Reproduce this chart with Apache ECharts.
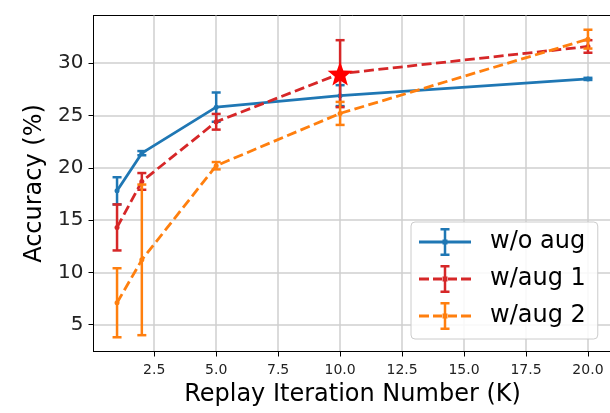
<!DOCTYPE html>
<html>
<head>
<meta charset="utf-8">
<script src="https://cdn.jsdelivr.net/npm/echarts@6/dist/echarts.min.js"></script>
<style>
  html, body { margin: 0; padding: 0; background: #fff; }
  #chart { width: 610px; height: 413px; }
</style>
</head>
<body>
<div id="chart"></div>
<script>
// 数据
const iterations = [1, 2, 5, 10, 20];
const woAug = [17.8, 21.4, 25.8, 26.9, 28.5];
const woAugErr = [1.3, 0.2, 1.4, 1.0, 0.1];
const aug1 = [14.3, 18.7, 24.4, 29.0, 31.6];
const aug1Err = [2.2, 0.8, 0.75, 3.2, 0.6];
const aug2 = [7.1, 11.2, 20.2, 25.2, 32.3];
const aug2Err = [3.3, 7.2, 0.35, 1.1, 0.9];
const starIndex = 3; // w/aug 1 highlighted point
const xTicks = [2.5, 5, 7.5, 10, 12.5, 15, 17.5, 20];
const yTicks = [5, 10, 15, 20, 25, 30];

const BLUE = "#1f77b4", RED = "#d62728", ORANGE = "#ff7f0e";
const FONT = "DejaVu Sans";

// 五角星
function starPath(r, ri) {
  let d = "path://";
  for (let k = 0; k < 10; k++) {
    const rr = k % 2 === 0 ? r : ri;
    const a = -Math.PI / 2 + (k * Math.PI) / 5;
    d += (k === 0 ? "M" : "L") + (rr * Math.cos(a)).toFixed(2) + " " + (rr * Math.sin(a)).toFixed(2);
  }
  return d + "Z";
}

function rect(x0, y0, x1, y1) {
  return "M" + x0 + " " + y0 + "L" + x1 + " " + y0 + "L" + x1 + " " + y1 + "L" + x0 + " " + y1 + "Z";
}
// legend icons (52 x 28 box)
const barPart = rect(24.75, 1, 27.25, 27) + rect(21.5, 0, 30.5, 2.5) + rect(21.5, 25.5, 30.5, 28) + rect(23.5, 11.5, 28.5, 16.5);
const solidIcon = "path://" + rect(0, 12.6, 52, 15.4) + barPart;
const dashedIcon = "path://" + rect(0, 12.6, 10, 15.4) + rect(14, 12.6, 23, 15.4) +
  rect(29, 12.6, 38, 15.4) + rect(42, 12.6, 52, 15.4) + barPart;

function pairs(ys) {
  return iterations.map((x, i) => [x, ys[i]]);
}
function errData(ys, es) {
  return iterations.map((x, i) => [x, ys[i], es[i]]);
}

function errorBars(name, ys, es, color, z) {
  return {
    name: name,
    type: "custom",
    z: z,
    data: errData(ys, es),
    renderItem: function (params, api) {
      const x = api.value(0), y = api.value(1), e = api.value(2);
      const top = api.coord([x, y + e]);
      const bot = api.coord([x, y - e]);
      const cap = 4.5;
      const style = { stroke: color, lineWidth: 2.5, fill: null };
      return {
        type: "group",
        children: [
          { type: "line", shape: { x1: top[0], y1: top[1], x2: bot[0], y2: bot[1] }, style: style },
          { type: "line", shape: { x1: top[0] - cap, y1: top[1], x2: top[0] + cap, y2: top[1] }, style: style },
          { type: "line", shape: { x1: bot[0] - cap, y1: bot[1], x2: bot[0] + cap, y2: bot[1] }, style: style },
        ],
      };
    },
  };
}

function lineSeries(name, ys, color, dashed, z) {
  return {
    name: name,
    type: "line",
    z: z,
    data: pairs(ys),
    symbol: "circle",
    symbolSize: 5,
    showSymbol: true,
    itemStyle: { color: color },
    lineStyle: { color: color, width: 2.8, type: dashed ? [10, 4.5] : "solid" },
  };
}

const chart = echarts.init(document.getElementById("chart"));
chart.setOption({
  animation: false,
  backgroundColor: "#fff",
  grid: {
    left: 93.5,
    top: 15.5,
    width: 518,
    height: 336,
    show: true,
    borderColor: "#000",
    borderWidth: 1,
    outerBoundsMode: "none",
  },
  xAxis: {
    type: "value",
    min: 0.05,
    max: 20.95,
    name: "Replay Iteration Number (K)",
    nameLocation: "middle",
    nameGap: 29,
    nameTextStyle: { fontFamily: FONT, fontSize: 24, color: "#000" },
    axisLine: { show: true, onZero: false, lineStyle: { color: "#000", width: 1 } },
    axisTick: { show: true, length: 5, customValues: xTicks, lineStyle: { color: "#000" } },
    axisLabel: {
      customValues: xTicks,
      margin: 12,
      fontFamily: FONT,
      fontSize: 14,
      color: "#222",
      formatter: (v) => v.toFixed(1),
    },
    splitLine: { show: true, lineStyle: { color: "#cfcfcf", width: 1.5 } },
  },
  yAxis: {
    type: "value",
    min: 2.44,
    max: 34.56,
    name: "Accuracy (%)",
    nameLocation: "middle",
    nameGap: 46,
    nameTextStyle: { fontFamily: FONT, fontSize: 24, color: "#000" },
    axisLine: { show: true, onZero: false, lineStyle: { color: "#000", width: 1 } },
    axisTick: { show: true, length: 5, customValues: yTicks, lineStyle: { color: "#000" } },
    axisLabel: {
      customValues: yTicks,
      margin: 10,
      fontFamily: FONT,
      fontSize: 20,
      color: "#222",
    },
    splitLine: { show: true, lineStyle: { color: "#cfcfcf", width: 1.5 } },
  },
  legend: {
    orient: "vertical",
    left: 411,
    top: 222,
    padding: [6, 12, 9, 8],
    itemGap: 9,
    itemWidth: 52,
    itemHeight: 28,
    backgroundColor: "rgba(255,255,255,0.85)",
    borderColor: "#cccccc",
    borderWidth: 1,
    borderRadius: 4,
    textStyle: { fontFamily: FONT, fontSize: 24, color: "#000", padding: [0, 0, 0, 14] },
    data: [
      { name: "w/o aug", icon: solidIcon, itemStyle: { color: BLUE } },
      { name: "w/aug 1", icon: dashedIcon, itemStyle: { color: RED } },
      { name: "w/aug 2", icon: dashedIcon, itemStyle: { color: ORANGE } },
    ],
  },
  series: [
    lineSeries("w/o aug", woAug, BLUE, false, 2),
    errorBars("w/o aug", woAug, woAugErr, BLUE, 2),
    lineSeries("w/aug 1", aug1, RED, true, 4),
    errorBars("w/aug 1", aug1, aug1Err, RED, 4),
    {
      name: "best",
      type: "scatter",
      z: 5,
      symbol: starPath(10, 4.2),
      symbolSize: 25,
      symbolKeepAspect: true,
      itemStyle: { color: "#ff0000", opacity: 1 },
      data: [[iterations[starIndex], aug1[starIndex]]],
    },
    lineSeries("w/aug 2", aug2, ORANGE, true, 6),
    errorBars("w/aug 2", aug2, aug2Err, ORANGE, 6),
  ],
});
</script>
</body>
</html>
